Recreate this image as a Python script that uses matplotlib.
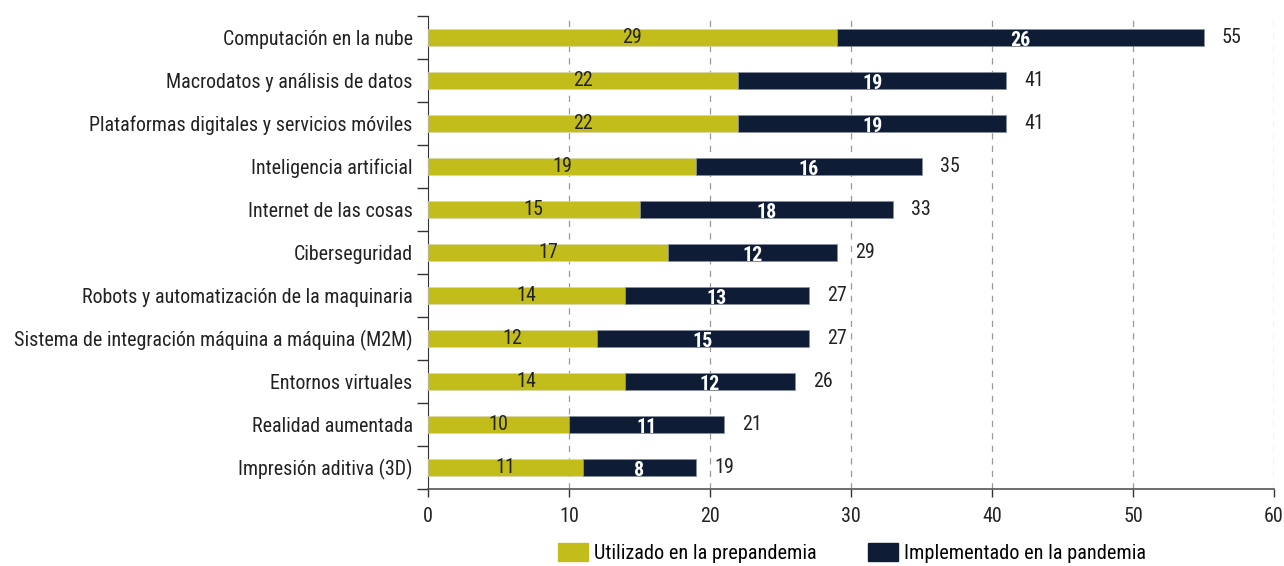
import matplotlib
matplotlib.use("Agg")
import matplotlib.pyplot as plt
from matplotlib import font_manager as fm
from matplotlib.patches import Patch

names = {f.name for f in fm.fontManager.ttflist}
fam = "Roboto"
for cand in ["Roboto Condensed", "Liberation Sans Narrow", "Open Sans Condensed", "DejaVu Sans Condensed"]:
    if cand in names:
        fam = cand
        break
plt.rcParams['font.family'] = [fam, 'DejaVu Sans']

categories = [
    "Computación en la nube",
    "Macrodatos y análisis de datos",
    "Plataformas digitales y servicios móviles",
    "Inteligencia artificial",
    "Internet de las cosas",
    "Ciberseguridad",
    "Robots y automatización de la maquinaria",
    "Sistema de integración máquina a máquina (M2M)",
    "Entornos virtuales",
    "Realidad aumentada",
    "Impresión aditiva (3D)",
]
prepandemia = [29, 22, 22, 19, 15, 17, 14, 12, 14, 10, 11]
pandemia = [26, 19, 19, 16, 18, 12, 13, 15, 12, 11, 8]
xticks = [0, 10, 20, 30, 40, 50, 60]
legend_labels = ["Utilizado en la prepandemia", "Implementado en la pandemia"]

YEL = "#C3BD1C"
NAVY = "#0E1C36"
TXT = "#222222"
FS = 14.4

fig = plt.figure(figsize=(12.84, 5.66), dpi=100)
ax = fig.add_axes([428/1284, 1-489/566, (1274-428)/1284, (489-16)/566])

n = len(categories)
ys = list(range(n))
totals = [a + b for a, b in zip(prepandemia, pandemia)]
ax.barh(ys, prepandemia, height=0.4, color=YEL, edgecolor="#d8d8b0", linewidth=0.5, zorder=3)
ax.barh(ys, pandemia, left=prepandemia, height=0.4, color=NAVY, edgecolor="#8890a0", linewidth=0.5, zorder=3)

for y, a, b, t in zip(ys, prepandemia, pandemia, totals):
    ax.text(a/2, y, str(a), ha="center", va="center", fontsize=FS, color=TXT, zorder=4)
    ax.text(a + b/2, y + 0.08, str(b), ha="center", va="center", fontsize=FS, color="white",
            fontweight="bold", zorder=4)
    ax.annotate(str(t), (t, y), xytext=(13, 0), textcoords="offset points",
                ha="left", va="center", fontsize=FS, color=TXT, zorder=4)

ax.set_xlim(0, 60)
ax.set_ylim(n - 0.5, -0.5)
ax.set_xticks(xticks)
ax.set_xticklabels([str(x) for x in xticks], fontsize=FS, color=TXT)
ax.set_yticks(ys)
ax.set_yticklabels(categories, fontsize=FS, color=TXT)
ax.tick_params(axis="y", length=0, pad=11)
ax.set_yticks([i - 0.5 for i in range(n + 1)], minor=True)
ax.tick_params(axis="y", which="minor", length=8, width=1, color="#333333")
ax.tick_params(axis="x", length=6, width=1, color="#333333", pad=7)

for x in xticks[1:]:
    ax.axvline(x, color="#999999", linestyle=(0, (5, 5)), linewidth=0.9, zorder=1)

for s in ["top", "right"]:
    ax.spines[s].set_visible(False)
ax.spines["left"].set_color("#333333")
ax.spines["bottom"].set_color("#555555")
ax.spines["bottom"].set_linewidth(1.2)

handles = [Patch(color=YEL), Patch(color=NAVY)]
fig.legend(handles, legend_labels, loc="center", bbox_to_anchor=(852/1284, 1-553/566), ncol=2,
           frameon=False, fontsize=14.6, handlelength=1.45, handleheight=1.0, columnspacing=2.57,
           handletextpad=0.3, borderpad=0)

fig.savefig("out.png", dpi=100)
